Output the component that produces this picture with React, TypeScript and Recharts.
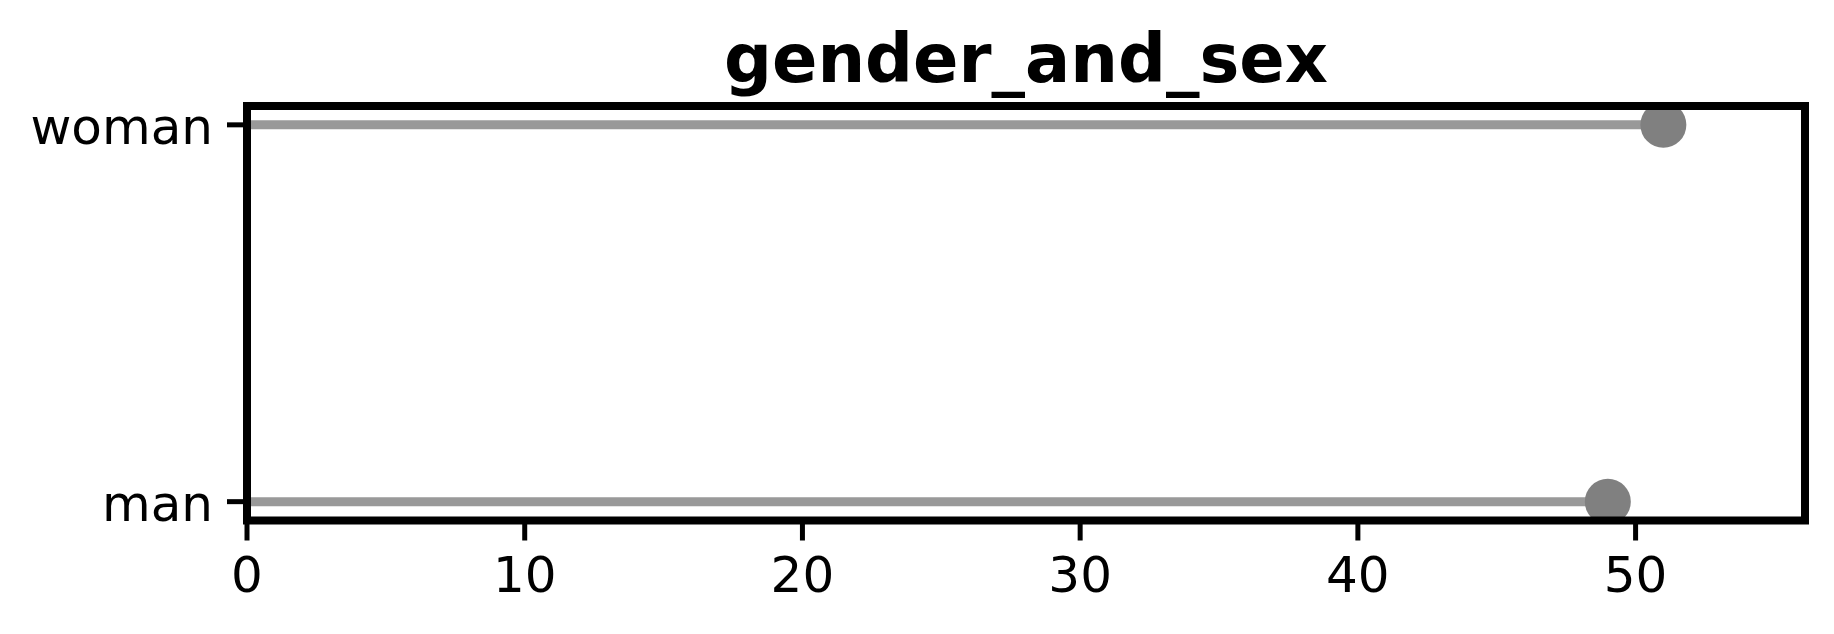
import React from 'react';
import { ScatterChart, Scatter, XAxis, YAxis, ReferenceArea } from 'recharts';

const title = 'gender_and_sex';
const categories = ['man', 'woman'];
const values = [49, 51];
const xTicks = [0, 10, 20, 30, 40, 50];
const xMax = 56.1;
const yDomain: [number, number] = [-0.05, 1.05];

const FONT = '"DejaVu Sans", sans-serif';
const W = 1834;
const H = 634;
const M = { top: 106, right: 29, left: 0, bottom: 0 };
const YW = 247;
const XH = 113.5;

const stems = categories.map((c, i) => ({
  name: c,
  data: [
    { x: 0, y: i },
    { x: values[i], y: i },
  ],
}));
const dots = categories.map((c, i) => ({ name: c, x: values[i], y: i }));

const YTick = (props: any) => {
  const { x, y, payload } = props;
  return (
    <text x={x} y={y} dy={19} textAnchor="end" fontSize={50} fontFamily={FONT} fill="#000">
      {categories[payload.value]}
    </text>
  );
};

const XTick = (props: any) => {
  const { x, y, payload } = props;
  return (
    <text x={x} y={y} dy={35} textAnchor="middle" fontSize={50} fontFamily={FONT} fill="#000">
      {payload.value}
    </text>
  );
};

const Dot = (props: any) => {
  const { cx, cy } = props;
  return <circle cx={cx} cy={cy} r={23} fill="#808080" />;
};

const NoShape = () => <g />;

export default function App() {
  const plotCx = YW + (W - YW - M.right) / 2;
  return (
    <div style={{ position: 'absolute', left: 0, top: 0, width: W, height: H, background: '#fff' }}>
      <ScatterChart width={W} height={H} margin={M}>
        <XAxis
          type="number"
          dataKey="x"
          domain={[0, xMax]}
          ticks={xTicks}
          allowDataOverflow
          axisLine={false}
          tickLine={{ stroke: '#000', strokeWidth: 5 }}
          tickSize={20}
          tickMargin={16.5}
          tick={<XTick />}
          height={XH}
        />
        <YAxis
          type="number"
          dataKey="y"
          domain={yDomain}
          ticks={[0, 1]}
          allowDataOverflow
          axisLine={false}
          tickLine={{ stroke: '#000', strokeWidth: 5 }}
          tickSize={20}
          tickMargin={14}
          tick={<YTick />}
          width={YW}
        />
        {stems.map((s) => (
          <Scatter
            key={s.name}
            data={s.data}
            line={{ stroke: '#999999', strokeWidth: 9 }}
            shape={<NoShape />}
            isAnimationActive={false}
          />
        ))}
        <Scatter data={dots} shape={<Dot />} isAnimationActive={false} />
        <ReferenceArea
          x1={0}
          x2={xMax}
          y1={yDomain[0]}
          y2={yDomain[1]}
          fill="none"
          fillOpacity={0}
          stroke="#000"
          strokeWidth={8}
          strokeOpacity={1}
          ifOverflow="visible"
          zIndex={3000}
        />
        <text
          x={plotCx}
          y={82}
          textAnchor="middle"
          fontSize={67}
          fontWeight="bold"
          fontFamily={FONT}
          fill="#000"
        >
          {title}
        </text>
      </ScatterChart>
    </div>
  );
}
